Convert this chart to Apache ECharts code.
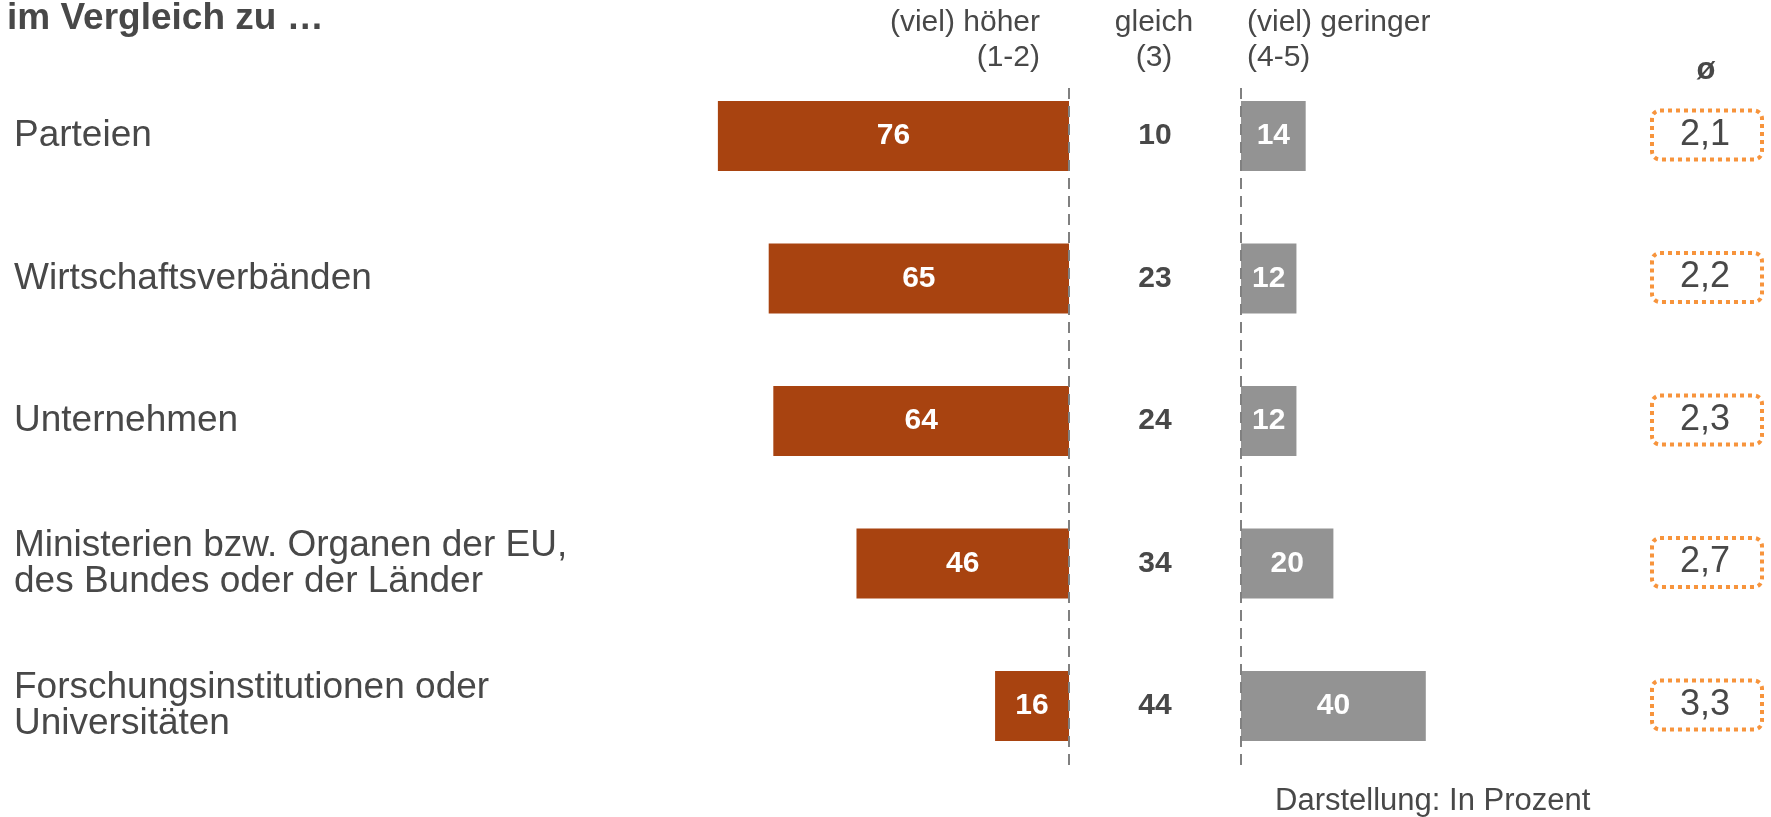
<!DOCTYPE html>
<html>
<head>
<meta charset="utf-8">
<script src="https://cdn.jsdelivr.net/npm/echarts@6/dist/echarts.min.js"></script>
<style>
  html, body { margin: 0; padding: 0; background: #ffffff; }
  #chart { width: 1771px; height: 817px; }
</style>
</head>
<body>
<div id="chart"></div>
<script>
// Survey rows and their shares (percent) per answer group
const categories = [
  'Parteien',
  'Wirtschaftsverbänden',
  'Unternehmen',
  'Ministerien bzw. Organen der EU,\ndes Bundes oder der Länder',
  'Forschungsinstitutionen oder\nUniversitäten'
];
const higher = [76, 65, 64, 46, 16];   // (viel) höher (1-2)
const same = [10, 23, 24, 34, 44];     // gleich (3)
const lower = [14, 12, 12, 20, 40];    // (viel) geringer (4-5)
const average = [2.1, 2.2, 2.3, 2.7, 3.3];

const titleText = 'im Vergleich zu …';
const headHigher = '(viel) höher\n(1-2)';
const headSame = 'gleich\n(3)';
const headLower = '(viel) geringer\n(4-5)';
const headAvg = 'ø';
const noteText = 'Darstellung: In Prozent';

const FONT = '"Liberation Sans", Arial, Helvetica, sans-serif';
const TEXT = '#484848';
const ORANGE = '#A84310';
const GREY = '#939393';
const DOTS = '#F7943C';
const ROW_TOP = 64.75;
const ROW_H = 712.5;

const chart = echarts.init(document.getElementById('chart'), null, { renderer: 'canvas' });

const hiddenY = (gi) => ({
  gridIndex: gi,
  type: 'category',
  data: categories,
  inverse: true,
  axisLine: { show: false },
  axisTick: { show: false },
  axisLabel: { show: false },
  splitLine: { show: false }
});

const barLabel = {
  show: true,
  position: 'inside',
  color: '#ffffff',
  fontFamily: FONT,
  fontWeight: 'bold',
  fontSize: 30,
  padding: [0, 0, 4, 0]
};

const option = {
  animation: false,
  backgroundColor: '#ffffff',
  grid: [
    { left: 607, top: ROW_TOP, width: 462, height: ROW_H },
    { left: 1241, top: ROW_TOP, width: 462, height: ROW_H },
    { left: 1069, top: ROW_TOP, width: 172, height: ROW_H },
    { left: 1652, top: ROW_TOP, width: 110, height: ROW_H }
  ],
  xAxis: [
    { gridIndex: 0, type: 'value', min: 0, max: 100, inverse: true, show: false },
    { gridIndex: 1, type: 'value', min: 0, max: 100, show: false },
    { gridIndex: 2, type: 'category', data: ['gleich'], show: false },
    { gridIndex: 3, type: 'category', data: ['ø'], show: false }
  ],
  yAxis: [
    Object.assign(hiddenY(0), {
      axisLine: { show: false, onZero: false },
      axisLabel: {
        show: true,
        align: 'left',
        margin: 593,
        fontFamily: FONT,
        fontSize: 37,
        lineHeight: 36,
        color: TEXT,
        padding: [0, 0, 10, 0]
      }
    }),
    hiddenY(1),
    hiddenY(2),
    hiddenY(3)
  ],
  series: [
    {
      name: '(viel) höher',
      type: 'bar',
      xAxisIndex: 0,
      yAxisIndex: 0,
      data: higher,
      barWidth: 70,
      itemStyle: { color: ORANGE },
      label: barLabel
    },
    {
      name: '(viel) geringer',
      type: 'bar',
      xAxisIndex: 1,
      yAxisIndex: 1,
      data: lower,
      barWidth: 70,
      itemStyle: { color: GREY },
      label: barLabel
    },
    {
      name: 'gleich',
      type: 'custom',
      xAxisIndex: 2,
      yAxisIndex: 2,
      data: same.map((v, i) => [0, i, v]),
      encode: { x: 0, y: 1 },
      renderItem: (params, api) => {
        const pt = api.coord([api.value(0), api.value(1)]);
        return {
          type: 'text',
          x: pt[0],
          y: pt[1],
          style: {
            text: String(api.value(2)),
            fontFamily: FONT,
            fontWeight: 'bold',
            fontSize: 30,
            fill: TEXT,
            align: 'center',
            verticalAlign: 'middle'
          }
        };
      }
    },
    {
      name: 'ø',
      type: 'custom',
      xAxisIndex: 3,
      yAxisIndex: 3,
      data: average.map((v, i) => [0, i, v]),
      encode: { x: 0, y: 1 },
      renderItem: (params, api) => {
        const pt = api.coord([api.value(0), api.value(1)]);
        const w = 110, h = 49;
        return {
          type: 'group',
          children: [
            {
              type: 'rect',
              shape: { x: pt[0] - w / 2, y: pt[1] - 1 - h / 2, width: w, height: h, r: 8 },
              style: { fill: 'none', stroke: DOTS, lineWidth: 4, lineDash: [4, 4] }
            },
            {
              type: 'text',
              x: pt[0] - 2,
              y: pt[1] - 1,
              style: {
                text: api.value(2).toFixed(1).replace('.', ','),
                fontFamily: FONT,
                fontSize: 36,
                fill: TEXT,
                align: 'center',
                verticalAlign: 'middle'
              }
            }
          ]
        };
      }
    }
  ],
  graphic: [
    {
      type: 'text', left: 7, top: 0,
      style: { text: titleText, fontFamily: FONT, fontWeight: 'bold', fontSize: 37, fill: TEXT }
    },
    {
      type: 'text', x: 1040, y: 40,
      style: { text: headHigher, fontFamily: FONT, fontSize: 30, lineHeight: 35, fill: TEXT, align: 'right', verticalAlign: 'middle' }
    },
    {
      type: 'text', x: 1154, y: 40,
      style: { text: headSame, fontFamily: FONT, fontSize: 30, lineHeight: 35, fill: TEXT, align: 'center', verticalAlign: 'middle' }
    },
    {
      type: 'text', x: 1247, y: 40,
      style: { text: headLower, fontFamily: FONT, fontSize: 30, lineHeight: 35, fill: TEXT, align: 'left', verticalAlign: 'middle' }
    },
    {
      type: 'text', x: 1706, y: 70,
      style: { text: headAvg, fontFamily: FONT, fontWeight: 'bold', fontSize: 31, fill: TEXT, align: 'center', verticalAlign: 'middle' }
    },
    {
      type: 'line', z: 10,
      shape: { x1: 1069, y1: 88, x2: 1069, y2: 770 },
      style: { stroke: '#808080', lineWidth: 2, lineDash: [11, 7] }
    },
    {
      type: 'line', z: 10,
      shape: { x1: 1241, y1: 88, x2: 1241, y2: 770 },
      style: { stroke: '#808080', lineWidth: 2, lineDash: [11, 7] }
    },
    {
      type: 'text', x: 1275, y: 801,
      style: { text: noteText, fontFamily: FONT, fontSize: 31, fill: TEXT, align: 'left', verticalAlign: 'middle' }
    }
  ]
};

chart.setOption(option);
</script>
</body>
</html>
